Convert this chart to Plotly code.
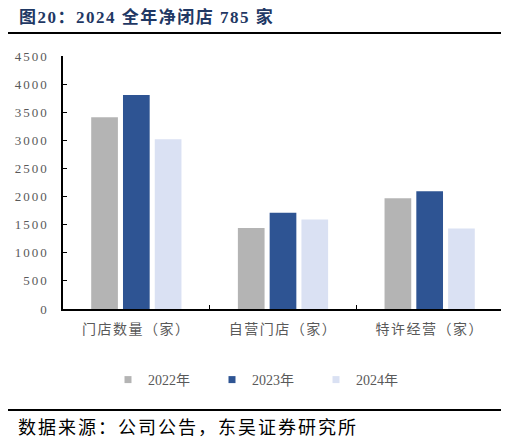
import plotly.graph_objects as go

categories = ["门店数量（家）", "自营门店（家）", "特许经营（家）"]
series_names = ["2022年", "2023年", "2024年"]
values_2022 = [3410, 1440, 1970]
values_2023 = [3805, 1710, 2095]
values_2024 = [3020, 1590, 1430]
colors = ["#B4B4B4", "#2E5493", "#DAE1F3"]
y_ticks = [0, 500, 1000, 1500, 2000, 2500, 3000, 3500, 4000, 4500]

title_text = "图20：2024 全年净闭店 785 家"
source_text = "数据来源：公司公告，东吴证券研究所"

O = 8  # page body margin offset
W, H = 509 - O, 444 - O
# plot area in page pixels: x 63..503, y 56..309
L = 63 - O
R = W - (503 - O)
T = 56 - O
B = H - (309 - O)
ph = H - T - B
pw = W - L - R

def px_x(x):
    return (x - O - L) / pw

def px_y(y):
    return (H - B - (y - O)) / ph

cjk = "Liberation Serif, Noto Sans CJK SC, serif"

def spaced(s, sp):
    return "<span style='letter-spacing:%spx'>%s</span>" % (sp, s)

fig = go.Figure()
for name, vals, c in zip(series_names, [values_2022, values_2023, values_2024], colors):
    fig.add_trace(go.Bar(x=categories, y=vals, name=name, marker=dict(color=c, line=dict(width=0)),
                         showlegend=False))
    fig.add_trace(go.Scatter(x=[None], y=[None], mode="markers", name=name,
                             marker=dict(symbol="square", size=7, color=c)))

fig.update_layout(
    width=W, height=H,
    margin=dict(l=L, r=R, t=T, b=B, pad=0),
    paper_bgcolor="white", plot_bgcolor="white",
    barmode="group", bargap=0.35, bargroupgap=0.16,
    font=dict(family=cjk, color="#595959"),
    showlegend=True,
    legend=dict(orientation="h", x=px_x(108), xanchor="left", y=px_y(380), yanchor="middle",
                font=dict(size=14, color="#595959", family=cjk),
                itemwidth=30, entrywidth=59, entrywidthmode="pixels", tracegroupgap=0),
    xaxis=dict(type="category", showline=True, linecolor="#000000", linewidth=1.5,
               ticks="inside", ticklen=4, tickcolor="#000000", tickson="boundaries",
               tickvals=categories, ticktext=[spaced(c, 1.5) for c in categories],
               tickfont=dict(size=14, color="#595959", family=cjk), showgrid=False,
               zeroline=False, ticklabelstandoff=6),
    yaxis=dict(range=[0, 4500], tickvals=y_ticks, ticktext=[spaced(str(v), 2) for v in y_ticks],
               showline=True, linecolor="#000000", linewidth=1.5,
               ticks="inside", ticklen=4, tickcolor="#000000",
               tickfont=dict(size=13, color="#595959", family="Liberation Serif, serif"),
               showgrid=False, zeroline=False, ticklabelstandoff=10),
)

fig.add_shape(type="line", xref="paper", yref="paper", x0=px_x(5), x1=px_x(503),
              y0=px_y(33), y1=px_y(33), line=dict(color="#000000", width=2))
fig.add_shape(type="line", xref="paper", yref="paper", x0=px_x(5), x1=px_x(503),
              y0=px_y(410), y1=px_y(410), line=dict(color="#000000", width=2))

fig.add_annotation(text="<b>" + spaced(title_text, 1.5) + "</b>", xref="paper", yref="paper",
                   x=px_x(17), y=px_y(16.5), xanchor="left", yanchor="middle", showarrow=False,
                   font=dict(size=17, color="#1F3864", family=cjk))
fig.add_annotation(text=spaced(source_text, 2), xref="paper", yref="paper",
                   x=px_x(16), y=px_y(428), xanchor="left", yanchor="middle", showarrow=False,
                   font=dict(size=18, color="#000000", family=cjk))

fig.write_html("out.html")
